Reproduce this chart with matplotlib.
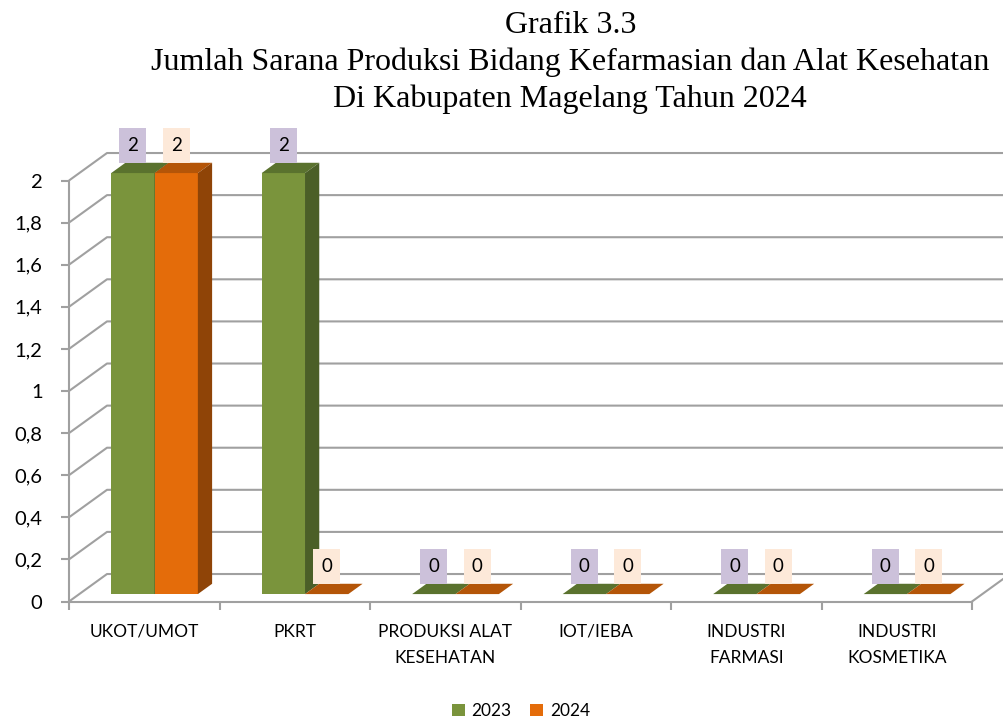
import matplotlib
matplotlib.use("Agg")
import matplotlib.pyplot as plt
from matplotlib.patches import Polygon, Rectangle, Patch
import numpy as np

# data
categories = ["UKOT/UMOT", "PKRT", "PRODUKSI ALAT\nKESEHATAN", "IOT/IEBA",
              "INDUSTRI\nFARMASI", "INDUSTRI\nKOSMETIKA"]
years = ["2023", "2024"]
val_2023 = [2, 2, 0, 0, 0, 0]
val_2024 = [2, 0, 0, 0, 0, 0]
yticks = [0, 0.2, 0.4, 0.6, 0.8, 1, 1.2, 1.4, 1.6, 1.8, 2]
title_lines = ["Grafik 3.3",
               "Jumlah Sarana Produksi Bidang Kefarmasian dan Alat Kesehatan",
               "Di Kabupaten Magelang Tahun 2024"]

# colours: front, top, side, label box
green = ("#7A943C", "#5A722E", "#4B5F27", "#CCC1DA")
orange = ("#E46C0A", "#B45508", "#8F4407", "#FDE9D9")
grid_c = "#A0A0A0"

# fake 3d geometry (data units)
ddx, ddy = 0.2525, 0.1306   # depth of the floor
f0, f1 = 0.27, 0.645        # bar front / back as fraction of depth
w = 0.288                   # bar width

fig = plt.figure(figsize=(10.04, 7.2), dpi=100)
ax = fig.add_axes([0, 0, 1, 1])
ax.set_facecolor("none")
ax.set_xlim(-0.9585, 5.7126)
ax.set_ylim(-0.5629, 2.8575)

n = len(categories)
left, right = -0.5, n - 0.5

# walls / grid
for y in yticks:
    ax.plot([left, left + ddx, right + ddx], [y, y + ddy, y + ddy],
            color=grid_c, lw=1.5, zorder=1, solid_capstyle="butt")
ax.plot([right, right + ddx], [0, ddy], color=grid_c, lw=1.5, zorder=1)

# axes
for s in ["top", "right"]:
    ax.spines[s].set_visible(False)
ax.spines["left"].set_position(("data", left))
ax.spines["left"].set_bounds(0, 2)
ax.spines["bottom"].set_position(("data", 0))
ax.spines["bottom"].set_bounds(left, right)
for s in ["left", "bottom"]:
    ax.spines[s].set_color(grid_c)
    ax.spines[s].set_linewidth(1.5)
    ax.spines[s].set_zorder(2)

ax.set_yticks(yticks)
ax.set_yticklabels([("%g" % v).replace(".", ",") for v in yticks])
ax.tick_params(axis="y", direction="out", length=6, width=1.5, color=grid_c,
               pad=13, labelsize=14.5, labelfontfamily="Lato")
ax.set_xticks(np.arange(left, right + 0.5, 1))
ax.set_xticklabels([])
ax.set_xticks(np.arange(n), minor=True)
ax.set_xticklabels(categories, minor=True)
ax.tick_params(axis="x", which="major", direction="out", length=6, width=1.5,
               color=grid_c)
ax.tick_params(axis="x", which="minor", length=0, pad=16, labelsize=12.5,
               labelfontfamily="Lato")
for t in ax.get_xticklabels(minor=True):
    t.set_linespacing(1.8)

# bars
bdx, bdy = (f1 - f0) * ddx, (f1 - f0) * ddy
series = [(val_2023, green), (val_2024, orange)]
for i in range(n):
    for s, (vals, col) in enumerate(series):
        v = vals[i]
        xl = i - w + s * w + f0 * ddx
        xr = xl + w
        b = f0 * ddy
        t = v + b
        z = 3 + s
        ax.bar(xl, v, width=w, bottom=b, align="edge", color=col[0],
               edgecolor="none", zorder=z)
        ax.add_patch(Polygon([(xl, t), (xr, t), (xr + bdx, t + bdy), (xl + bdx, t + bdy)],
                             closed=True, facecolor=col[1], edgecolor="none", zorder=z))
        if v > 0:
            ax.add_patch(Polygon([(xr, b), (xr, t), (xr + bdx, t + bdy), (xr + bdx, b + bdy)],
                                 closed=True, facecolor=col[2], edgecolor="none", zorder=z))
        # data label
        bw, bh = 0.179, 0.166
        cx = xl + w / 2
        by = v + f1 * ddy
        ax.add_patch(Rectangle((cx - bw / 2, by), bw, bh, facecolor=col[3],
                               edgecolor="none", zorder=10))
        ax.text(cx, by + bh / 2, "%g" % v, ha="center", va="center",
                fontsize=13.5, family="Lato", color="black", zorder=11)

# title
tx = 0.568
for k, line in enumerate(title_lines):
    fig.text(tx, 1 - (33 + 37 * k) / 720, line, ha="center", va="baseline",
             fontsize=23, family="Liberation Serif")

# legend
handles = [Patch(facecolor=green[0], edgecolor="none", label=years[0]),
           Patch(facecolor=orange[0], edgecolor="none", label=years[1])]
fig.legend(handles=handles, loc="center", bbox_to_anchor=(0.519, 0.0125),
           ncol=2, frameon=False, prop={"family": "Lato", "size": 12.4},
           handlelength=0.72, handleheight=0.72, handletextpad=0.4,
           columnspacing=1.1, borderpad=0, borderaxespad=0)

fig.savefig("out.png", dpi=100)
